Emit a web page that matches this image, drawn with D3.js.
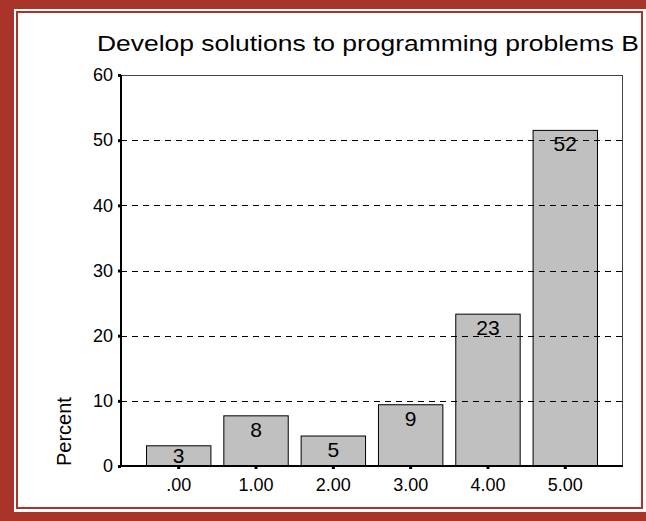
<!DOCTYPE html>
<html>
<head>
<meta charset="utf-8">
<script src="https://cdn.jsdelivr.net/npm/d3@7"></script>
<style>
  html, body { margin: 0; padding: 0; background: #fff; }
  svg { display: block; font-family: "Liberation Sans", Arial, sans-serif; }
</style>
</head>
<body>
<svg id="chart" width="646" height="521"></svg>
<script>
// Response categories and percentage of respondents in each
const categories = [".00", "1.00", "2.00", "3.00", "4.00", "5.00"];
const percents = [3.1, 7.7, 4.6, 9.4, 23.3, 51.5];
const yTicks = [0, 10, 20, 30, 40, 50, 60];
const gridValues = [10, 20, 30, 40, 50];
const titleText = "Develop solutions to programming problems B";
const yLabel = "Percent";

const svg = d3.select("#chart");
const W = 646, H = 521;
const frameColor = "#a9342a";
const fontStack = "Liberation Sans, Arial, sans-serif";

// Page frame: thick red band with a thin inner rule
svg.append("rect").attr("x", 0).attr("y", 0).attr("width", W).attr("height", H).attr("fill", frameColor);
svg.append("rect").attr("x", 14).attr("y", 9).attr("width", W - 14).attr("height", 503).attr("fill", "#fff");
svg.append("rect").attr("x", 17).attr("y", 12).attr("width", 625).attr("height", 496)
  .attr("fill", "none").attr("stroke", frameColor).attr("stroke-width", 2);

// Plot area
const plot = { left: 121, right: 623, top: 75, bottom: 466 };

const x = d3.scaleBand()
  .domain(categories)
  .range([plot.left, plot.right])
  .paddingInner(0.167)
  .paddingOuter(0.33);

const y = d3.scaleLinear()
  .domain([0, 60])
  .range([plot.bottom, plot.top]);

// Title (wide setting)
svg.append("text")
  .attr("x", 368).attr("y", 51)
  .attr("text-anchor", "middle")
  .attr("font-size", 22)
  .attr("textLength", 542)
  .attr("lengthAdjust", "spacingAndGlyphs")
  .attr("fill", "#000")
  .text(titleText);

// Plot frame (top and right)
svg.append("line").attr("x1", plot.left).attr("x2", plot.right).attr("y1", plot.top + 0.5).attr("y2", plot.top + 0.5)
  .attr("stroke", "#444").attr("stroke-width", 1);
svg.append("line").attr("x1", plot.right - 0.5).attr("x2", plot.right - 0.5).attr("y1", plot.top).attr("y2", plot.bottom)
  .attr("stroke", "#444").attr("stroke-width", 1);

// Bars
svg.append("g").selectAll("rect")
  .data(categories.map((c, i) => ({ c, v: percents[i] })))
  .join("rect")
  .attr("x", d => x(d.c))
  .attr("y", d => y(d.v))
  .attr("width", x.bandwidth())
  .attr("height", d => y(0) - y(d.v))
  .attr("fill", "#c0c0c0")
  .attr("stroke", "#000")
  .attr("stroke-width", 1);

// Dashed reference lines, drawn over the bars
svg.append("g").selectAll("line")
  .data(gridValues)
  .join("line")
  .attr("x1", plot.left).attr("x2", plot.right - 1)
  .attr("y1", d => Math.round(y(d)) + 0.5).attr("y2", d => Math.round(y(d)) + 0.5)
  .attr("stroke", "#000")
  .attr("stroke-width", 1)
  .attr("stroke-dasharray", "6,5");

// Y axis
const yAxis = d3.axisLeft(y).tickValues(yTicks).tickSize(3).tickFormat(d3.format("d"));
const gy = svg.append("g").attr("transform", `translate(${plot.left},0)`).call(yAxis);
gy.select(".domain").remove();
gy.selectAll(".tick line").attr("stroke", "#000").attr("stroke-width", 3);
gy.selectAll(".tick text").attr("font-size", 18).attr("fill", "#000").attr("x", -8)
  .attr("font-family", fontStack);

// X axis
const xAxis = d3.axisBottom(x).tickSize(3).tickPadding(9);
const gx = svg.append("g").attr("transform", `translate(0,${plot.bottom})`).call(xAxis);
gx.select(".domain").remove();
gx.selectAll(".tick line").attr("stroke", "#000").attr("stroke-width", 3);
gx.selectAll(".tick text").attr("font-size", 18).attr("fill", "#000")
  .attr("font-family", fontStack);

// Axis lines
svg.append("line").attr("x1", plot.left).attr("x2", plot.left).attr("y1", plot.top).attr("y2", plot.bottom + 1)
  .attr("stroke", "#000").attr("stroke-width", 2);
svg.append("line").attr("x1", plot.left - 1).attr("x2", plot.right).attr("y1", plot.bottom).attr("y2", plot.bottom)
  .attr("stroke", "#000").attr("stroke-width", 2);

// Value labels inside the top of each bar
const fmt = d3.format(".0f");
svg.append("g").selectAll("text")
  .data(categories.map((c, i) => ({ c, v: percents[i] })))
  .join("text")
  .attr("x", d => x(d.c) + x.bandwidth() / 2)
  .attr("y", d => Math.min(y(d.v) + 21, plot.bottom - 3))
  .attr("text-anchor", "middle")
  .attr("font-size", 21)
  .attr("fill", "#000")
  .text(d => fmt(d.v));

// Y axis title, anchored at the baseline
svg.append("text")
  .attr("transform", `translate(71,${plot.bottom}) rotate(-90)`)
  .attr("font-size", 20)
  .attr("fill", "#000")
  .text(yLabel);
</script>
</body>
</html>
